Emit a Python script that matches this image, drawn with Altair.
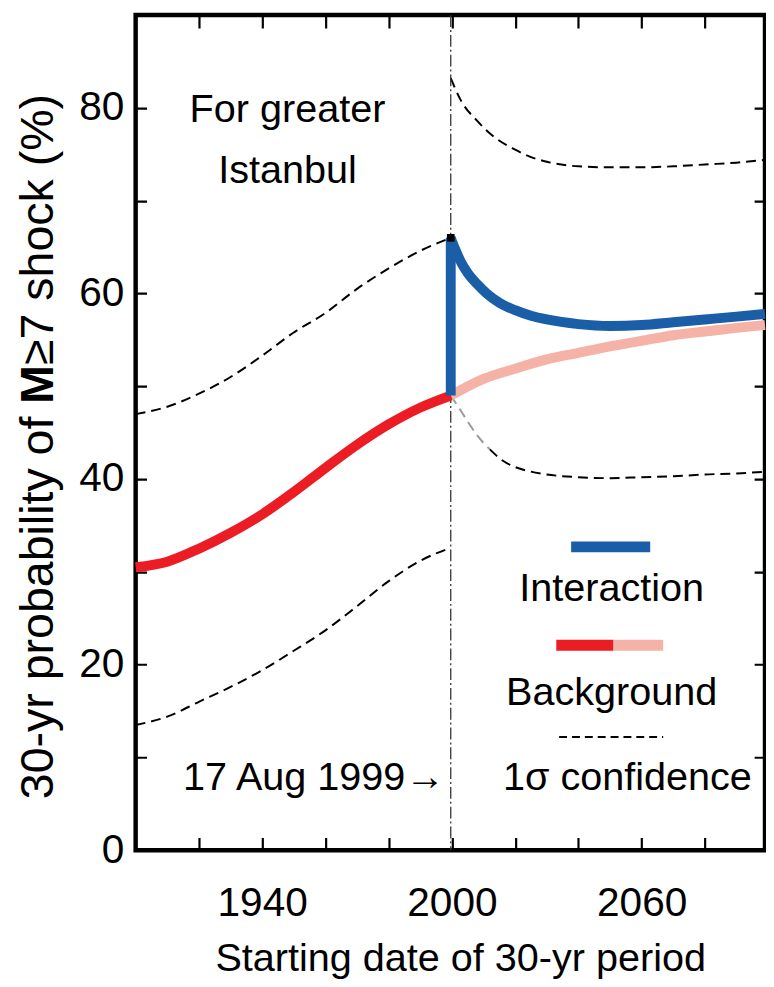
import altair as alt
import pandas as pd

# ---------------- data ----------------
quake_year = 1999.63

bg_years = [1900, 1910, 1920, 1930, 1940, 1950, 1960, 1970, 1980, 1990, 1999.63]
bg_vals = [30.5, 31.1, 32.5, 34.2, 36.2, 38.6, 41.2, 43.7, 45.9, 47.7, 49.0]

bg_future_years = [1999.63, 2010, 2020, 2030, 2040, 2050, 2060, 2070, 2080, 2090, 2099]
bg_future_vals = [49.0, 50.8, 51.9, 52.9, 53.6, 54.3, 54.9, 55.5, 55.9, 56.3, 56.6]

int_years = [1999.63, 2001, 2003, 2005, 2008, 2011, 2015, 2020, 2025, 2030, 2040,
             2050, 2060, 2070, 2080, 2090, 2099]
int_vals = [66.0, 64.8, 63.3, 62.2, 61.0, 60.0, 59.0, 58.2, 57.6, 57.2, 56.7,
            56.5, 56.6, 56.9, 57.2, 57.5, 57.8]

upper_past_years = [1900, 1910, 1920, 1930, 1940, 1950, 1960, 1970, 1980, 1990, 1999.63]
upper_past_vals = [47.0, 47.8, 49.2, 51.0, 53.3, 55.8, 57.9, 60.5, 62.7, 64.6, 66.0]

lower_past_years = [1900, 1910, 1920, 1930, 1940, 1950, 1960, 1970, 1980, 1990, 1999.63]
lower_past_vals = [13.5, 14.4, 16.0, 17.6, 19.4, 21.5, 23.7, 26.3, 29.0, 31.2, 32.6]

upper_future_years = [1999.63, 2003, 2008, 2014, 2020, 2025, 2030, 2040, 2050, 2060,
                      2070, 2080, 2090, 2099]
upper_future_vals = [83.2, 80.7, 78.6, 76.7, 75.5, 74.7, 74.2, 73.7, 73.6, 73.6,
                     73.7, 73.9, 74.1, 74.4]

lower_future_years = [1999.63, 2002, 2005, 2008, 2012, 2016, 2020, 2025, 2030, 2040,
                      2050, 2060, 2070, 2080, 2090, 2099]
lower_future_vals = [49.0, 47.8, 46.2, 44.7, 43.2, 42.0, 41.3, 40.8, 40.5, 40.2,
                     40.1, 40.2, 40.3, 40.5, 40.6, 40.8]
lower_fade_until = 2012

x_tick_values = [1920, 1940, 1960, 1980, 2000, 2020, 2040, 2060, 2080]
x_label_values = [1940, 2000, 2060]
y_tick_values = [0, 10, 20, 30, 40, 50, 60, 70, 80]
y_label_values = [0, 20, 40, 60, 80]

x_title = "Starting date of 30-yr period"
y_title_parts = ["30-yr probability of", "M", "\u22657 shock (%)"]

place_lines = ["For greater", "Istanbul"]
place_x = [1948, 1948]
place_y = [78.5, 71.9]

legend_labels = ["Interaction", "Background", "1\u03c3 confidence"]
legend_label_x = [2050.5, 2050.5, 2055.5]
legend_label_y = [26.9, 15.7, 6.5]

quake_label = "17 Aug 1999\u2192"
quake_label_pos = [1997.8, 6.5]

# ---------------- styling ----------------
W, H = 636, 844
FONT = "Liberation Sans"
FS = 40
BLUE = "#1b5ea8"
RED = "#ec1c24"
PINK = "#f5b3a7"

def df(years, vals):
    return pd.DataFrame({"year": years, "value": vals})

def label_expr(vals):
    return "indexof([" + ",".join(str(v) for v in vals) + "], datum.value) >= 0 ? datum.label : ''"

XT = 13  # inward tick length for x ticks
YT = 11  # inward tick length for y ticks

x_axis = alt.Axis(
    values=x_tick_values, format="d", labelExpr=label_expr(x_label_values),
    grid=True, gridDash=[XT, H - 2 * XT, XT, 4000], gridColor="black",
    gridWidth=2.2, gridOpacity=1, ticks=False, tickSize=0, domain=False,
    labelFont=FONT, labelFontSize=FS + 1, labelColor="black", labelPadding=34,
    labelOverlap=False, labelFlush=False,
    titleFont=FONT, titleFontSize=FS, titleFontWeight="normal", titleColor="black",
    titleX=328, titleY=122, titleBaseline="alphabetic", titleAlign="center",
)
y_axis = alt.Axis(
    values=y_tick_values, labelExpr=label_expr(y_label_values),
    grid=True, gridDash=[YT, W - 2 * YT, YT, 4000], gridColor="black",
    gridWidth=2.2, gridOpacity=1, ticks=False, tickSize=0, domain=False,
    labelFont=FONT, labelFontSize=FS + 1, labelColor="black", labelPadding=12,
    labelOverlap=False, labelFlush=False,
)

X = alt.X("year:Q", scale=alt.Scale(domain=[1900, 2099], nice=False, zero=False),
          axis=x_axis, title=x_title)
Y = alt.Y("value:Q", scale=alt.Scale(domain=[0, 90], nice=False, zero=False),
          axis=y_axis, title=None)

def line(data, color, width, dash=None, opacity=1):
    kw = dict(color=color, strokeWidth=width, interpolate="monotone",
              strokeCap="butt", opacity=opacity)
    if dash:
        kw["strokeDash"] = dash
    return alt.Chart(data).mark_line(**kw).encode(x=X, y=Y)

DASH = [10, 6]

lower_future = df(lower_future_years, lower_future_vals)
layers = [
    line(df(upper_past_years, upper_past_vals), "black", 2, DASH),
    line(df(lower_past_years, lower_past_vals), "black", 2, DASH),
    line(df(upper_future_years, upper_future_vals), "black", 2, DASH),
    alt.Chart(lower_future).transform_filter(f"datum.year <= {lower_fade_until}")
        .mark_line(color="#9a9a9a", strokeWidth=2, strokeDash=DASH, interpolate="monotone")
        .encode(x=X, y=Y),
    alt.Chart(lower_future).transform_filter(f"datum.year >= {lower_fade_until}")
        .mark_line(color="black", strokeWidth=2, strokeDash=DASH, interpolate="monotone")
        .encode(x=X, y=Y),
    # 17 Aug 1999 vertical marker
    alt.Chart(pd.DataFrame({"year": [quake_year]})).mark_rule(
        color="#333333", strokeWidth=1.3, strokeDash=[12, 3, 2, 3]).encode(x=X),
    line(df(bg_future_years, bg_future_vals), PINK, 10),
    line(df(bg_years, bg_vals), RED, 10),
    # jump at the time of the earthquake
    alt.Chart(pd.DataFrame({"year": [quake_year], "value": [bg_vals[-1]],
                            "value2": [int_vals[0]]}))
        .mark_rule(color=BLUE, strokeWidth=10)
        .encode(x=X, y=Y, y2="value2:Q"),
    line(df(int_years, int_vals), BLUE, 10),
    alt.Chart(df([quake_year], [int_vals[0]])).mark_square(
        color="black", size=60, opacity=1).encode(x=X, y=Y),
]

# legend symbols (in data coordinates)
leg = pd.DataFrame({
    "year": [2037.7, 2033.0, 2051.1, 2033.9],
    "year2": [2062.7, 2051.1, 2066.8, 2066.8],
    "value": [32.7, 22.1, 22.1, 12.2],
    "kind": ["int", "bg", "bgf", "conf"],
})
layers += [
    alt.Chart(leg).transform_filter("datum.kind == 'int'").mark_rule(
        color=BLUE, strokeWidth=11).encode(x=X, x2="year2:Q", y=Y),
    alt.Chart(leg).transform_filter("datum.kind == 'bg'").mark_rule(
        color=RED, strokeWidth=11).encode(x=X, x2="year2:Q", y=Y),
    alt.Chart(leg).transform_filter("datum.kind == 'bgf'").mark_rule(
        color=PINK, strokeWidth=11).encode(x=X, x2="year2:Q", y=Y),
    alt.Chart(leg).transform_filter("datum.kind == 'conf'").mark_rule(
        color="black", strokeWidth=2, strokeDash=[8, 5]).encode(x=X, x2="year2:Q", y=Y),
]

text_kw = dict(font=FONT, fontSize=FS, color="black", baseline="alphabetic")
layers += [
    alt.Chart(pd.DataFrame({"year": place_x, "value": place_y, "t": place_lines}))
        .mark_text(align="center", **text_kw).encode(x=X, y=Y, text="t:N"),
    alt.Chart(pd.DataFrame({"year": legend_label_x, "value": legend_label_y,
                            "t": legend_labels}))
        .mark_text(align="center", **text_kw).encode(x=X, y=Y, text="t:N"),
    alt.Chart(pd.DataFrame({"year": [quake_label_pos[0]], "value": [quake_label_pos[1]],
                            "t": [quake_label]}))
        .mark_text(align="right", **text_kw).encode(x=X, y=Y, text="t:N"),
]

# rotated y-axis title with bold "M"
TFS = 47
wA = 8.225 * TFS
wSp = 0.278 * TFS
wM = 0.833 * TFS
wC = 5.828 * TFS
center = 436
bottom = center + (wA + wSp + wM + wC) / 2
yA = bottom - wA
yM = yA - wSp
yC = yM - wM
TX = -84
tk = dict(font=FONT, fontSize=TFS, color="black", angle=270, baseline="alphabetic")
layers += [
    alt.Chart(pd.DataFrame({"t": [y_title_parts[0]]})).mark_text(align="right", **tk)
        .encode(x=alt.value(TX), y=alt.value(yA), text="t:N"),
    alt.Chart(pd.DataFrame({"t": [y_title_parts[1]]})).mark_text(align="left", fontWeight="bold", **tk)
        .encode(x=alt.value(TX), y=alt.value(yM), text="t:N"),
    alt.Chart(pd.DataFrame({"t": [y_title_parts[2]]})).mark_text(align="left", **tk)
        .encode(x=alt.value(TX), y=alt.value(yC), text="t:N"),
]

chart = alt.layer(*layers).properties(
    width=W, height=H,
    autosize=alt.AutoSizeParams(type="none"),
    padding={"left": 129, "top": 2, "right": 1, "bottom": 133},
    background="white",
).configure_view(stroke="black", strokeWidth=4.5)

chart.save("out.html", embed_options={"renderer": "svg", "actions": False})
